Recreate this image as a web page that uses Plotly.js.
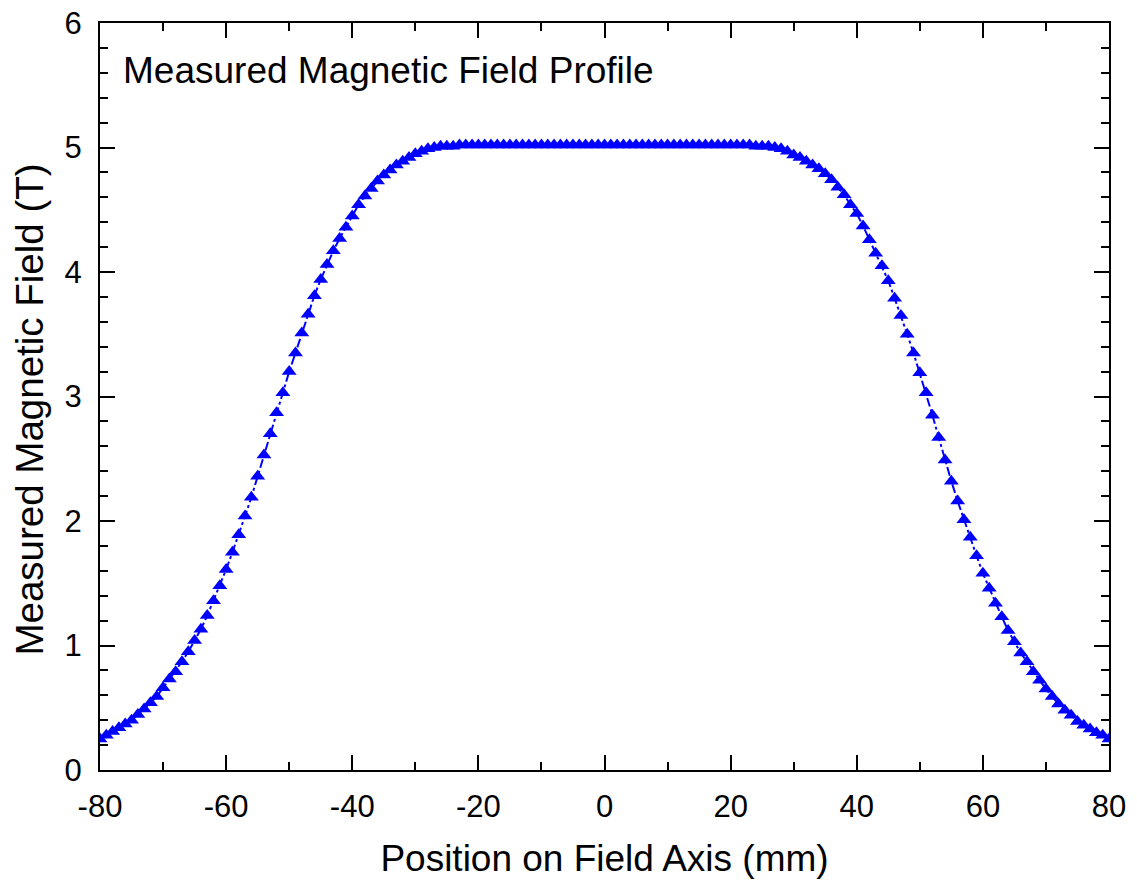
<!DOCTYPE html>
<html>
<head>
<meta charset="utf-8">
<script src="https://cdn.plot.ly/plotly-3.0.1.min.js"></script>
<style>
html,body{margin:0;padding:0;background:#fff;}
#chart{width:1137px;height:887px;}
</style>
</head>
<body>
<div id="chart"></div>
<script>
const positions = [
-80,-79,-78,-77,-76,-75,-74,-73,-72,-71,
-70,-69,-68,-67,-66,-65,-64,-63,-62,-61,
-60,-59,-58,-57,-56,-55,-54,-53,-52,-51,
-50,-49,-48,-47,-46,-45,-44,-43,-42,-41,
-40,-39,-38,-37,-36,-35,-34,-33,-32,-31,
-30,-29,-28,-27,-26,-25,-24,-23,-22,-21,
-20,-19,-18,-17,-16,-15,-14,-13,-12,-11,
-10,-9,-8,-7,-6,-5,-4,-3,-2,-1,
0,
1,2,3,4,5,6,7,8,9,10,
11,12,13,14,15,16,17,18,19,20,
21,22,23,24,25,26,27,28,29,30,
31,32,33,34,35,36,37,38,39,40,
41,42,43,44,45,46,47,48,49,50,
51,52,53,54,55,56,57,58,59,60,
61,62,63,64,65,66,67,68,69,70,
71,72,73,74,75,76,77,78,79,80
];
const fieldT = [
0.25,0.28,0.31,0.34,0.37,0.40,0.445,0.49,0.54,0.59,
0.66,0.73,0.79,0.87,0.95,1.04,1.13,1.24,1.36,1.48,
1.61,1.75,1.89,2.04,2.19,2.36,2.53,2.70,2.87,3.03,
3.20,3.35,3.51,3.66,3.81,3.94,4.06,4.17,4.27,4.36,
4.45,4.54,4.61,4.67,4.73,4.78,4.82,4.86,4.89,4.92,
4.95,4.97,4.99,5.00,5.01,5.01,5.01,5.02,5.02,5.02,
5.02,5.02,5.02,5.02,5.02,5.02,5.02,5.02,5.02,5.02,
5.02,5.02,5.02,5.02,5.02,5.02,5.02,5.02,5.02,5.02,
5.02,
5.02,5.02,5.02,5.02,5.02,5.02,5.02,5.02,5.02,5.02,
5.02,5.02,5.02,5.02,5.02,5.02,5.02,5.02,5.02,5.02,
5.02,5.02,5.02,5.01,5.01,5.01,5.00,4.99,4.97,4.94,
4.92,4.89,4.86,4.83,4.79,4.74,4.68,4.62,4.54,4.47,
4.37,4.26,4.15,4.05,3.93,3.79,3.65,3.50,3.35,3.19,
3.03,2.85,2.67,2.49,2.32,2.16,2.01,1.87,1.72,1.58,
1.46,1.34,1.23,1.12,1.03,0.94,0.87,0.79,0.72,0.65,
0.59,0.53,0.48,0.44,0.39,0.36,0.33,0.30,0.28,0.25
];
const xTickVals = [-80,-60,-40,-20,0,20,40,60,80];
const xTickText = ['-80','-60','-40','-20','0','20','40','60','80'];
const yTickVals = [0,1,2,3,4,5,6];
const yTickText = ['0','1','2','3','4','5','6'];
const chartLabel = 'Measured Magnetic Field Profile';
const xTitle = 'Position on Field Axis (mm)';
const yTitle = 'Measured Magnetic Field (T)';

const blue = '#0000FF';
const font = 'Liberation Sans, Arial, sans-serif';

const trace = {
  x: positions,
  y: fieldT,
  type: 'scatter',
  mode: 'lines+markers',
  line: {color: blue, width: 2, dash: 'dashdot'},
  marker: {symbol: 'triangle-up', size: 13, color: blue, line: {width: 0}},
  hoverinfo: 'x+y',
  showlegend: false
};

const axisCommon = {
  showline: true,
  linecolor: '#000',
  linewidth: 2,
  mirror: 'allticks',
  ticks: 'inside',
  tickcolor: '#000',
  tickwidth: 2,
  ticklen: 15,
  showgrid: false,
  zeroline: false,
  tickfont: {family: font, size: 31, color: '#000'}
};

const layout = {
  width: 1137,
  height: 887,
  margin: {l: 100, r: 28, t: 23, b: 117},
  paper_bgcolor: '#fff',
  plot_bgcolor: '#fff',
  font: {family: font, color: '#000'},
  xaxis: Object.assign({}, axisCommon, {
    range: [-80, 80],
    tickmode: 'array',
    tickvals: xTickVals,
    ticktext: xTickText,
    ticklabelstandoff: 8,
    minor: {dtick: 10, tick0: -80, ticks: 'inside', ticklen: 8, tickwidth: 2, tickcolor: '#000', showgrid: false},
    title: {text: xTitle, font: {family: font, size: 37, color: '#000'}, standoff: 22}
  }),
  yaxis: Object.assign({}, axisCommon, {
    range: [0, 6],
    tickmode: 'array',
    tickvals: yTickVals,
    ticktext: yTickText,
    ticklabelstandoff: 10,
    minor: {dtick: 0.2, tick0: 0, ticks: 'inside', ticklen: 8, tickwidth: 2, tickcolor: '#000', showgrid: false},
    title: {text: ''}
  }),
  annotations: [{
    text: chartLabel,
    xref: 'paper', yref: 'paper',
    x: 0.021, y: 0.937,
    xanchor: 'left', yanchor: 'middle',
    showarrow: false,
    font: {family: font, size: 37, color: '#000'}
  }, {
    text: yTitle,
    xref: 'paper', yref: 'paper',
    x: -0.07, y: 0.483,
    xanchor: 'center', yanchor: 'middle',
    textangle: -90,
    showarrow: false,
    font: {family: font, size: 38.5, color: '#000'}
  }]
};

Plotly.newPlot('chart', [trace], layout, {displayModeBar: false, staticPlot: true});
</script>
</body>
</html>
